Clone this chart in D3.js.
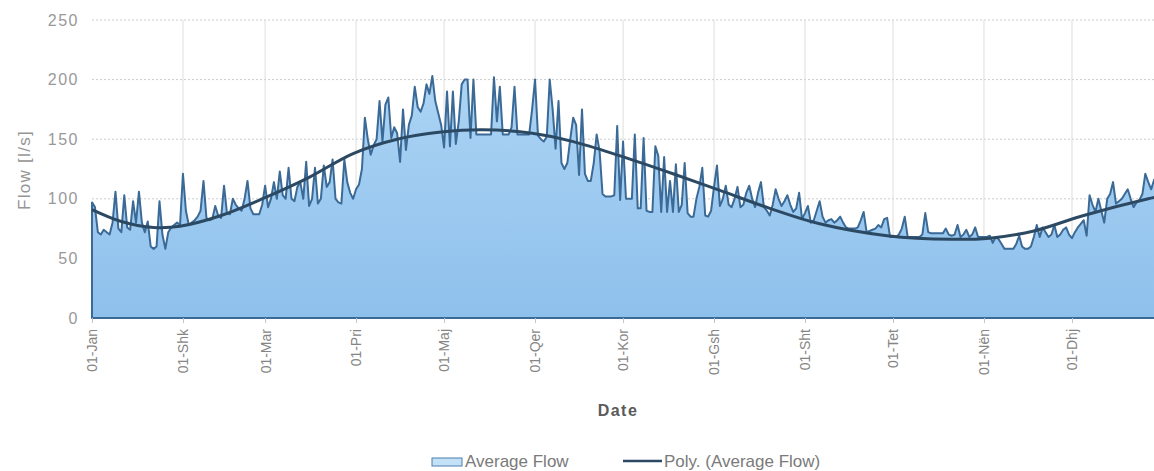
<!DOCTYPE html>
<html lang="sq">
<head>
<meta charset="UTF-8">
<script src="https://d3js.org/d3.v7.min.js"></script>
<style>
  body { margin: 0; background: #fff; font-family: Arial, "Liberation Sans", sans-serif; }
  .x-axis text { fill: #858585; font-size: 14px; }
  .y-axis text { fill: #999; font-size: 16px; letter-spacing: 1.5px; }
  .legend text { fill: #7a7a7a; font-size: 17px; }
</style>
</head>
<body>
<svg id="chart"></svg>
<script>
// month labels (Albanian)
const monthNames = ["Jan", "Shk", "Mar", "Pri", "Maj", "Qer", "Kor", "Gsh", "Sht", "Tet", "Nën", "Dhj"];
const yTicks = [0, 50, 100, 150, 200, 250];

// daily average flow [l/s], one array per month
const jan = [97,93,72,70,74,72,70,80,106,75,72,103,76,74,98,80,106,80,72,81,60,58,60,98,70,58,72,76,78,80,78];
const shk = [121,90,78,80,82,85,90,115,84,82,83,94,86,84,111,88,87,100,95,92,90,100,115,92,87,87,87,95];
const mar = [111,93,100,114,100,123,103,100,126,100,98,110,114,100,131,94,100,126,96,100,128,110,114,133,100,97,96,133,114,105,100];
const pri = [108,112,125,168,150,137,145,150,182,148,179,185,151,160,155,131,175,141,162,170,194,177,173,180,196,188,203,182,172,162];
const maj = [143,190,144,190,146,165,196,200,200,151,200,154,154,154,154,154,154,202,165,194,154,154,154,160,194,154,154,154,154,154,175];
const qer = [200,153,150,148,152,200,175,142,182,130,125,130,150,168,162,120,175,121,115,115,130,154,140,104,102,102,102,103,161,99];
const kor = [148,100,100,100,154,92,92,151,90,89,89,144,136,89,135,89,115,89,129,89,95,130,88,85,85,100,110,126,86,85,90];
const gsh = [110,128,94,100,111,95,93,100,110,93,95,105,111,100,93,105,114,93,90,86,95,108,100,94,98,103,95,89,92,105,83];
const sht = [88,94,80,82,90,98,85,80,82,83,80,82,85,80,76,75,75,75,76,82,89,72,73,74,75,78,76,83,84,68];
const tet = [68,68,70,75,85,68,68,68,68,68,70,88,72,71,71,71,71,71,75,70,69,70,78,68,70,74,68,70,76,68,68];
const nen = [68,68,69,63,68,66,62,58,58,58,58,62,69,60,58,58,60,68,78,68,76,72,68,70,78,68,70,74,76,70];
const dhj = [67,72,76,79,82,69,103,95,89,100,90,80,100,104,114,96,98,100,104,108,100,93,97,99,104,121,114,108,116,112,124];

// polynomial trend line, read at these day-of-year positions
const trendDay  = [0, 10, 21, 30, 44, 59, 74, 89, 104, 119, 133, 150, 164, 180, 198, 214, 231, 248, 271, 293, 306, 321, 338, 360, 364];
const trendFlow = [91, 81, 76, 77, 86, 101, 118, 138, 150, 156, 158, 155, 148, 136, 121, 107, 92, 79, 69, 66, 67, 73, 86, 100, 102];

const flow = [].concat(jan, shk, mar, pri, maj, qer, kor, gsh, sht, tet, nen, dhj);
const start = new Date(2001, 0, 1);
const data = flow.map((v, i) => ({ date: d3.timeDay.offset(start, i), v }));
const trend = trendDay.map((d, i) => ({ date: d3.timeDay.offset(start, d), v: trendFlow[i] }));
const monthStarts = d3.range(12).map(m => new Date(2001, m, 1));

const width = 1154, height = 471;
const plotLeft = 92, plotTop = 20, plotBottom = 318;

const svg = d3.select("#chart")
    .attr("width", width)
    .attr("height", height);

const x = d3.scaleTime()
    .domain([start, new Date(2001, 11, 31)])
    .range([plotLeft, 1160]);

const y = d3.scaleLinear()
    .domain([0, 250])
    .range([plotBottom, plotTop]);

const defs = svg.append("defs");
const grad = defs.append("linearGradient")
    .attr("id", "fillGrad")
    .attr("x1", 0).attr("y1", 0).attr("x2", 0).attr("y2", 1);
grad.append("stop").attr("offset", "0%").attr("stop-color", "#acd4f4");
grad.append("stop").attr("offset", "100%").attr("stop-color", "#8ec0ec");

// grid
svg.append("g")
    .selectAll("line")
    .data(yTicks.filter(t => t > 0))
    .join("line")
    .attr("x1", plotLeft).attr("x2", width)
    .attr("y1", d => y(d)).attr("y2", d => y(d))
    .attr("stroke", "#cccccc")
    .attr("stroke-dasharray", "2,2");

svg.append("g")
    .selectAll("line")
    .data(monthStarts.slice(1))
    .join("line")
    .attr("x1", d => x(d)).attr("x2", d => x(d))
    .attr("y1", plotTop).attr("y2", plotBottom)
    .attr("stroke", "#dedede");

// area of average flow
const area = d3.area()
    .x(d => x(d.date))
    .y0(y(0))
    .y1(d => y(d.v));

svg.append("path")
    .datum(data)
    .attr("d", area)
    .attr("fill", "url(#fillGrad)")
    .attr("stroke", "#3b6a97")
    .attr("stroke-width", 2)
    .attr("stroke-linejoin", "round");

// trend
const trendLine = d3.line()
    .x(d => x(d.date))
    .y(d => y(d.v))
    .curve(d3.curveCatmullRom);

svg.append("path")
    .datum(trend)
    .attr("d", trendLine)
    .attr("fill", "none")
    .attr("stroke", "#2c4964")
    .attr("stroke-width", 3);

// axes
const xAxis = svg.append("g")
    .attr("class", "x-axis")
    .attr("transform", `translate(0,${plotBottom})`)
    .call(d3.axisBottom(x)
        .tickValues(monthStarts)
        .tickSize(5)
        .tickFormat((d, i) => "01-" + monthNames[i]));
xAxis.select(".domain").remove();
xAxis.selectAll(".tick line").attr("stroke", "#c4c4c4");
xAxis.selectAll("text")
    .attr("transform", "rotate(-90)")
    .attr("text-anchor", "end")
    .attr("x", -11)
    .attr("y", 0)
    .attr("dy", "0.35em");

const yAxis = svg.append("g")
    .attr("class", "y-axis")
    .attr("transform", `translate(${plotLeft},0)`)
    .call(d3.axisLeft(y).tickValues(yTicks).tickSize(0).tickPadding(13));
yAxis.select(".domain").remove();

svg.append("text")
    .attr("transform", "translate(24,170) rotate(-90)")
    .attr("text-anchor", "middle")
    .attr("dy", "0.35em")
    .attr("fill", "#959595")
    .style("font-size", "17px")
    .style("letter-spacing", "1.3px")
    .text("Flow [l/s]");

svg.append("text")
    .attr("x", 618)
    .attr("y", 416)
    .attr("text-anchor", "middle")
    .attr("fill", "#5a5a5a")
    .style("font-size", "16px")
    .style("font-weight", "bold")
    .style("letter-spacing", "1.5px")
    .text("Date");

// legend
const legend = svg.append("g").attr("class", "legend");
legend.append("rect")
    .attr("x", 432).attr("y", 458)
    .attr("width", 30).attr("height", 8)
    .attr("fill", "#c3e1f7")
    .attr("stroke", "#4d7fae");
legend.append("text")
    .attr("x", 465).attr("y", 467)
    .text("Average Flow");
legend.append("line")
    .attr("x1", 623).attr("x2", 662)
    .attr("y1", 461).attr("y2", 461)
    .attr("stroke", "#2c4964")
    .attr("stroke-width", 2.5);
legend.append("text")
    .attr("x", 664).attr("y", 467)
    .text("Poly. (Average Flow)");
</script>
</body>
</html>
